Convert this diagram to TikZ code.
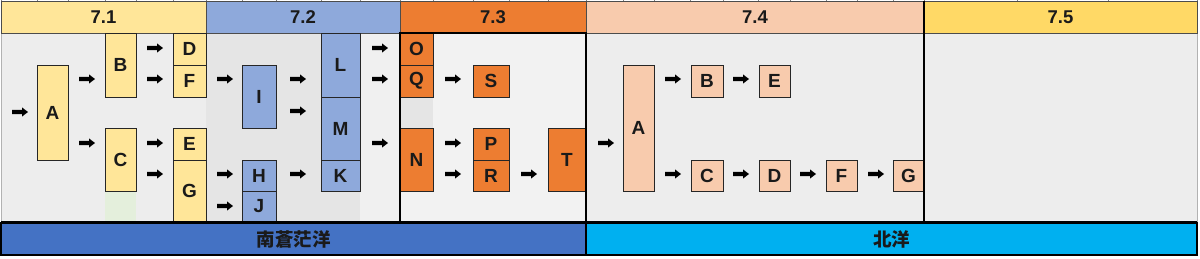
\documentclass[tikz,border=0pt]{standalone}
\usepackage{fontspec}
\setsansfont{Liberation Sans}
\newfontfamily\cjk{Noto Sans CJK JP}
\usetikzlibrary{calc}
\definecolor{yA}{HTML}{FFE699}
\definecolor{bB}{HTML}{8EA9DB}
\definecolor{oC}{HTML}{ED7D31}
\definecolor{pD}{HTML}{F8CBAD}
\definecolor{gE}{HTML}{FFD966}
\definecolor{navy}{HTML}{4472C4}
\definecolor{cyanbar}{HTML}{00B0F0}
\definecolor{bgone}{HTML}{EDEDED}
\definecolor{bgtwo}{HTML}{E5E5E5}
\definecolor{bgthree}{HTML}{F2F2F2}
\definecolor{bglight}{HTML}{F0F0F0}
\definecolor{greenish}{HTML}{E4EFDC}
\definecolor{txt}{HTML}{1A1A1A}
\begin{document}
\begin{tikzpicture}[x=1pt,y=-1pt,
  box/.style={draw=black!85, line width=0.8, anchor=north west, inner sep=0, outer sep=0,
    text=txt, font=\sffamily\bfseries\fontsize{19}{19}\selectfont},
  hdr/.style={draw=black!70, line width=0.8, anchor=north west, inner sep=0, outer sep=0,
    minimum height=32, text=txt, font=\sffamily\bfseries\fontsize{18.5}{18.5}\selectfont},
  bar/.style={draw=black, line width=1.2, anchor=north west, inner sep=0, outer sep=0,
    minimum height=32, text=txt, font=\cjk\bfseries\fontsize{18.5}{18.5}\selectfont},
  rarr/.pic={\fill[black] (0,-2.2) -- (10,-2.2) -- (10,-4.6) -- (16,0) -- (10,4.6) -- (10,2.2) -- (0,2.2) -- cycle;}
]
\useasboundingbox (0,0) rectangle (1200,258);
\fill[white] (0,0) rectangle (1200,258);
% top grid ticks
\foreach \x in {1,37,68,105,136,173,206,242,276,321,360,400,433,473,509,548,586,623,654,690,723,758,790,826,857,893,924,1017,1108,1197}
  \draw[black!50, line width=0.6] (\x,0) -- (\x,2);
% body backgrounds
\fill[bgone] (1,33) rectangle (206,222);
\fill[bgtwo] (206,33) rectangle (360,222);
\fill[bglight] (360,33) rectangle (400,222);
\fill[bgthree] (400,33) rectangle (586,222);
\fill[bgtwo] (400,97) rectangle (433,128);
\fill[bgone] (586,33) rectangle (1197,222);
\fill[greenish] (105,191) rectangle (136,222);
\draw[black!30, line width=0.6] (1,33) -- (1,222);
\draw[black!30, line width=0.6] (1197,33) -- (1197,222);
% headers
\node[hdr, fill=yA, minimum width=205] (h1) at (1,1) {7.1};
\node[hdr, fill=bB, minimum width=194] (h2) at (206,1) {7.2};
\node[hdr, fill=oC, minimum width=186] (h3) at (400,1) {7.3};
\node[hdr, fill=pD, minimum width=338] (h4) at (586,1) {7.4};
\node[hdr, fill=gE, minimum width=273] (h5) at (924,1) {7.5};
% 7.1
\node[box, fill=yA, minimum width=31, minimum height=95] (A1) at (37,65) {A};
\node[box, fill=yA, minimum width=31, minimum height=64] (B1) at (105,33) {B};
\node[box, fill=yA, minimum width=31, minimum height=63] (C1) at (105,128) {C};
\node[box, fill=yA, minimum width=33, minimum height=32] (D1) at (173,33) {D};
\node[box, fill=yA, minimum width=33, minimum height=32] (F1) at (173,65) {F};
\node[box, fill=yA, minimum width=33, minimum height=32] (E1) at (173,128) {E};
\node[box, fill=yA, minimum width=33, minimum height=62] (G1) at (173,160) {G};
% 7.2
\node[box, fill=bB, minimum width=34, minimum height=63] (I2) at (242,65) {I};
\node[box, fill=bB, minimum width=34, minimum height=31] (H2) at (242,160) {H};
\node[box, fill=bB, minimum width=34, minimum height=31] (J2) at (242,191) {J};
\node[box, fill=bB, minimum width=39, minimum height=64] (L2) at (321,33) {L};
\node[box, fill=bB, minimum width=39, minimum height=63] (M2) at (321,97) {M};
\node[box, fill=bB, minimum width=39, minimum height=31] (K2) at (321,160) {K};
% 7.3
\node[box, fill=oC, minimum width=33, minimum height=32] (O3) at (400,33) {O};
\node[box, fill=oC, minimum width=33, minimum height=32] (Q3) at (400,65) {Q};
\node[box, fill=oC, minimum width=36, minimum height=32] (S3) at (473,65) {S};
\node[box, fill=oC, minimum width=33, minimum height=63] (N3) at (400,128) {N};
\node[box, fill=oC, minimum width=36, minimum height=32] (P3) at (473,128) {P};
\node[box, fill=oC, minimum width=36, minimum height=31] (R3) at (473,160) {R};
\node[box, fill=oC, minimum width=38, minimum height=63] (T3) at (548,128) {T};
% 7.4
\node[box, fill=pD, minimum width=31, minimum height=126] (A4) at (623,65) {A};
\node[box, fill=pD, minimum width=32, minimum height=32] (B4) at (691,65) {B};
\node[box, fill=pD, minimum width=31, minimum height=32] (E4) at (759,65) {E};
\node[box, fill=pD, minimum width=32, minimum height=31] (C4) at (691,160) {C};
\node[box, fill=pD, minimum width=31, minimum height=31] (D4) at (759,160) {D};
\node[box, fill=pD, minimum width=31, minimum height=31] (F4) at (826,160) {F};
\node[box, fill=pD, minimum width=31, minimum height=31] (G4) at (893,160) {G};
% region borders
\draw[black, line width=1.2] (400,33) rectangle (586,222);
\draw[black, line width=1.5] (924,1) -- (924,222);
\draw[black, line width=1.5] (1,222) -- (1197,222);
% arrows
\foreach \p in {(12,112),(79,79),(79,143),(147,48),(147,79),(147,143),(147,174),
  (217,79),(217,174),(217,206),(290,79),(290,111),(290,174),(372,48),(372,79),(372,143),
  (445,79),(445,143),(445,174),(521,174),(598,143),(665,79),(665,174),(733,79),(733,174),
  (800,174),(868,174)}
  \pic at \p {rarr};
% bottom bars
\node[bar, fill=navy, minimum width=585] (south) at (1,223) {南蒼茫洋};
\node[bar, fill=cyanbar, minimum width=611] (north) at (586,223) {北洋};
\end{tikzpicture}
\end{document}
